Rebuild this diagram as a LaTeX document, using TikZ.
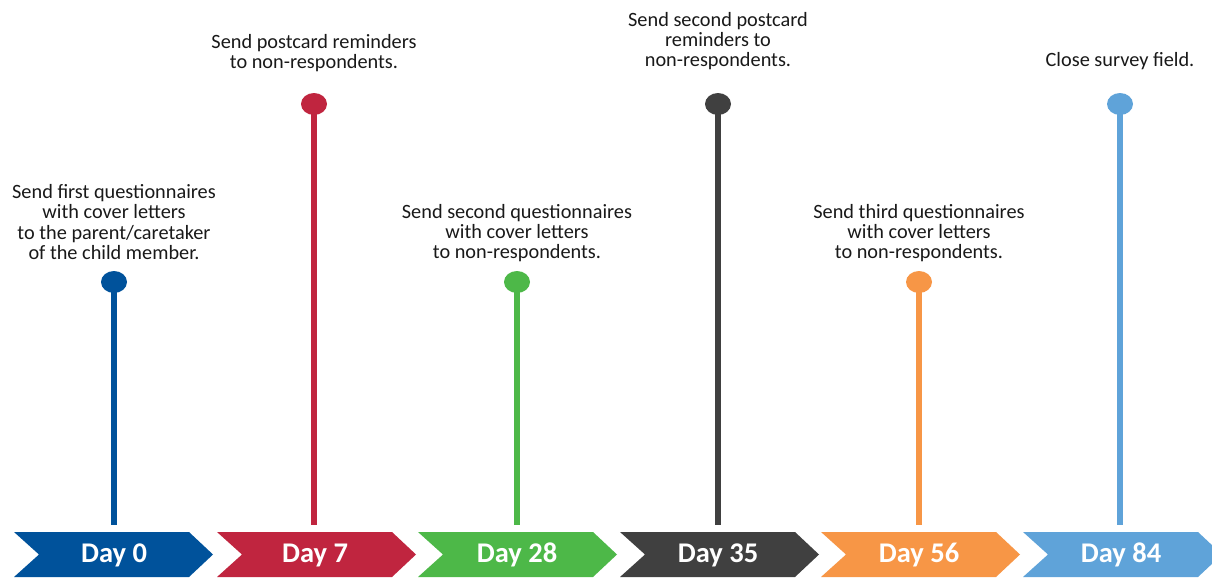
\documentclass[tikz,border=0pt]{standalone}
\usepackage{fontspec}
\setmainfont{Carlito}
\usetikzlibrary{shapes.geometric}
\definecolor{cblue}{RGB}{0,82,155}
\definecolor{cred}{RGB}{192,37,63}
\definecolor{cgreen}{RGB}{77,184,72}
\definecolor{cgray}{RGB}{64,64,64}
\definecolor{corange}{RGB}{247,150,70}
\definecolor{clblue}{RGB}{95,163,217}
\tikzset{
  dot/.style={ellipse, fill=#1, minimum width=26pt, minimum height=22pt, inner sep=0pt},
  stem/.style={line width=6pt, draw=#1},
  desc/.style={align=center, text=black!90, font=\fontsize{20.3}{20.4}\selectfont, inner sep=0pt},
  daylabel/.style={text=white, font=\bfseries\fontsize{28.5}{30}\selectfont, inner sep=0pt},
}
\newcommand{\chev}[2]{%
  \fill[#2] (#1,532) -- ++(175,0) -- ++(24,22.5) -- ++(-24,22.5) -- ++(-175,0) -- ++(25,-22.5) -- cycle;}
\begin{document}
\begin{tikzpicture}[x=1pt,y=-1pt]
\useasboundingbox (0,0) rectangle (1212,578);
\clip (0,0) rectangle (1212,578);
% chevrons
\chev{14}{cblue}
\chev{217}{cred}
\chev{418}{cgreen}
\chev{620}{cgray}
\chev{821}{corange}
\chev{1023}{clblue}
\node[daylabel] (l0) at (114,555) {Day 0};
\node[daylabel] (l1) at (315,555) {Day 7};
\node[daylabel] (l2) at (517,555) {Day 28};
\node[daylabel] (l3) at (718,555) {Day 35};
\node[daylabel] (l4) at (919,555) {Day 56};
\node[daylabel] (l5) at (1121,555) {Day 84};
% stem bottoms
\coordinate (b0) at (114,525);
\coordinate (b1) at (314,525);
\coordinate (b2) at (517,525);
\coordinate (b3) at (718,525);
\coordinate (b4) at (919,525);
\coordinate (b5) at (1120,525);
% dots
\node[dot=cblue] (d0) at (114,282) {};
\node[dot=cred] (d1) at (314,104) {};
\node[dot=cgreen] (d2) at (517,282) {};
\node[dot=cgray] (d3) at (718,104) {};
\node[dot=corange] (d4) at (919,282) {};
\node[dot=clblue] (d5) at (1120,104) {};
\draw[stem=cblue] (d0.center) -- (b0);
\draw[stem=cred] (d1.center) -- (b1);
\draw[stem=cgreen] (d2.center) -- (b2);
\draw[stem=cgray] (d3.center) -- (b3);
\draw[stem=corange] (d4.center) -- (b4);
\draw[stem=clblue] (d5.center) -- (b5);
% descriptions
\node[desc] (t0) at (114,222) {Send first questionnaires\\with cover letters\\to the parent/caretaker\\of the child member.};
\node[desc] (t1) at (314,53) {Send postcard reminders\\to non-respondents.};
\node[desc] (t2) at (517,233) {Send second questionnaires\\with cover letters\\to non-respondents.};
\node[desc] (t3) at (718,41) {Send second postcard\\reminders to\\non-respondents.};
\node[desc] (t4) at (919,233) {Send third questionnaires\\with cover letters\\to non-respondents.};
\node[desc] (t5) at (1120,61) {Close survey field.};
\end{tikzpicture}
\end{document}
